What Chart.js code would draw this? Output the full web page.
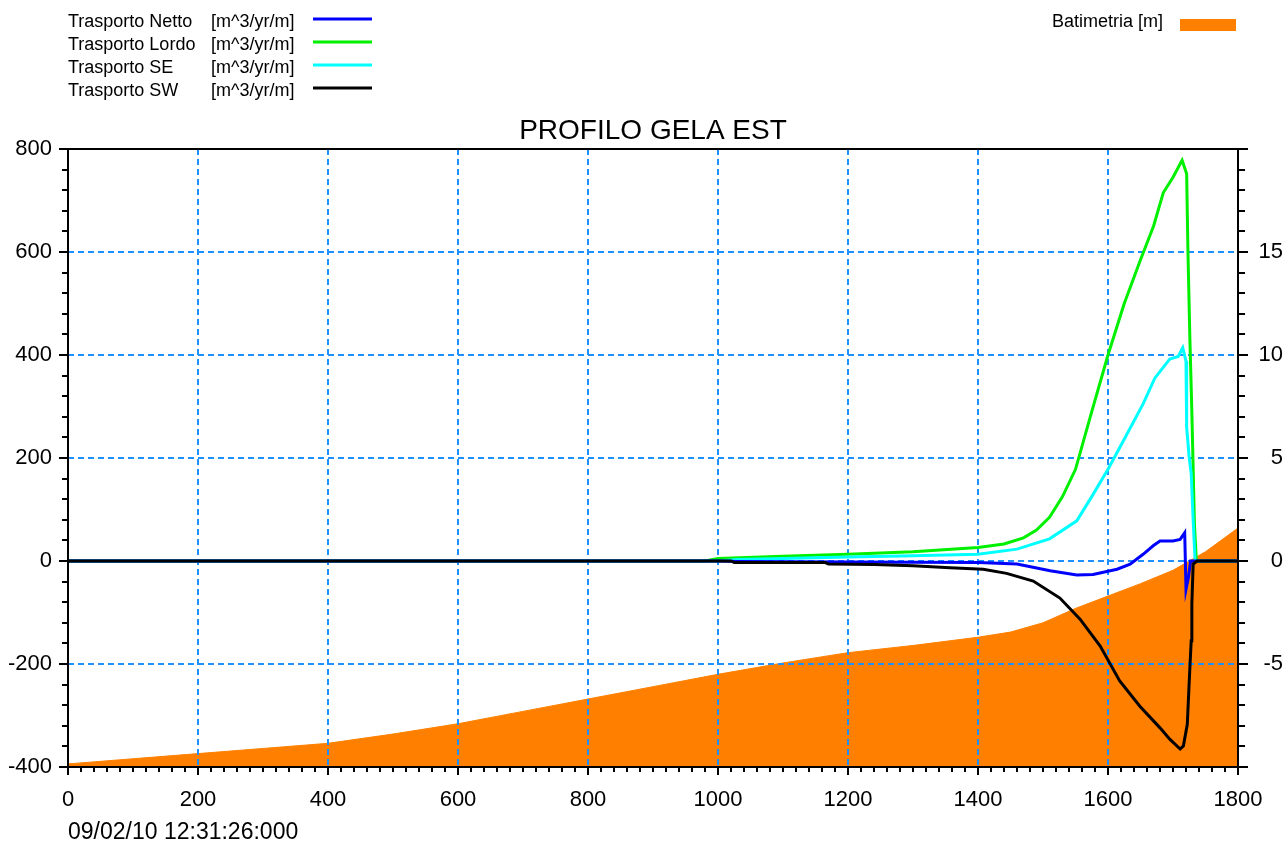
<!DOCTYPE html>
<html>
<head>
<meta charset="utf-8">
<title>PROFILO GELA EST</title>
<script src="https://cdn.jsdelivr.net/npm/chart.js@4.4.1/dist/chart.umd.min.js"></script>
<style>
  html, body { margin: 0; padding: 0; background: #ffffff; }
  canvas { display: block; }
</style>
</head>
<body>
<canvas id="profilo" width="1288" height="843"></canvas>
<script>
// ---- Profile data (distance along profile in m) ----
const titleText = 'PROFILO GELA EST';
const stampText = '09/02/10 12:31:26:000';
const unitText = '[m^3/yr/m]';
const seriesNames = ['Trasporto Netto', 'Trasporto Lordo', 'Trasporto SE', 'Trasporto SW'];
const bathyName = 'Batimetria [m]';

const xTickLabels = [0, 200, 400, 600, 800, 1000, 1200, 1400, 1600, 1800];
const yTickLabels = [-400, -200, 0, 200, 400, 600, 800];
const y2TickLabels = [-5, 0, 5, 10, 15];

// Net transport
const nettoX = [0, 1000, 1030, 1200, 1400, 1460, 1511, 1552, 1577, 1614, 1634, 1654, 1670, 1680, 1700, 1711, 1718, 1720, 1724, 1727, 1800];
const nettoY = [0, 0, -1, -2, -3, -6, -19, -27, -26, -16, -6, 13, 30, 39, 39, 42, 55, -55, -30, 0, 0];

// Gross transport
const lordoX = [0, 980, 1000, 1100, 1200, 1300, 1400, 1440, 1470, 1490, 1510, 1530, 1550, 1575, 1600, 1625, 1650, 1670, 1685, 1700, 1714, 1721, 1723, 1726, 1729, 1733, 1736, 1800];
const lordoY = [0, 0, 5, 9, 13, 18, 26, 33, 45, 60, 85, 125, 178, 290, 400, 500, 585, 650, 715, 745, 778, 752, 600, 430, 290, 70, 0, 0];

// SE transport
const seX = [0, 1000, 1030, 1100, 1200, 1300, 1400, 1460, 1510, 1552, 1575, 1600, 1626, 1654, 1672, 1695, 1708, 1715, 1720, 1721, 1725, 1728, 1731, 1734, 1800];
const seY = [0, 0, 3, 5, 8, 10, 13, 23, 43, 78, 125, 178, 239, 305, 355, 392, 397, 414, 388, 260, 200, 170, 80, 0, 0];

// SW transport
const swX = [0, 1020, 1025, 1165, 1170, 1240, 1300, 1357, 1408, 1444, 1485, 1526, 1557, 1588, 1618, 1649, 1680, 1695, 1711, 1716, 1722, 1725, 1728, 1729, 1731, 1737, 1800];
const swY = [0, 0, -3, -3, -6, -7, -9, -13, -16, -24, -39, -72, -113, -165, -233, -282, -324, -346, -365, -359, -317, -233, -155, -84, -6, 0, 0];

// Bathymetry (right axis, m)
const bathyX = [0, 100, 200, 300, 400, 500, 600, 700, 800, 900, 1000, 1100, 1200, 1300, 1400, 1450, 1500, 1550, 1600, 1650, 1700, 1750, 1800];
const bathyY = [-9.85, -9.6, -9.35, -9.1, -8.85, -8.4, -7.9, -7.3, -6.7, -6.1, -5.5, -4.95, -4.45, -4.1, -3.7, -3.45, -3.0, -2.3, -1.7, -1.1, -0.45, 0.45, 1.6];

const FONT = '"Liberation Sans", Arial, sans-serif';
const seriesColors = ['#0000ff', '#00f000', '#00ffff', '#000000'];
const bathyColor = '#ff8000';
const gridColor = '#1e90ff';

const pts = (xs, ys) => xs.map((x, i) => ({ x: x, y: ys[i] }));

const BATHY_INDEX = 4;

// Dashed grid (drawn over the bathymetry fill, under the transport lines),
// frame, tick marks, legend, title and time stamp.
const decor = {
  id: 'profileDecor',
  afterDatasetDraw(chart, args) {
    if (args.index !== BATHY_INDEX) return;
    const { ctx, chartArea: a, scales } = chart;
    ctx.save();
    ctx.strokeStyle = gridColor;
    ctx.lineWidth = 2;
    ctx.setLineDash([6, 4]);
    xTickLabels.forEach(v => {
      if (v <= scales.x.min || v >= scales.x.max) return;
      const px = Math.round(scales.x.getPixelForValue(v));
      ctx.beginPath(); ctx.moveTo(px, a.top); ctx.lineTo(px, a.bottom); ctx.stroke();
    });
    yTickLabels.forEach(v => {
      if (v <= scales.y.min || v >= scales.y.max) return;
      const py = Math.round(scales.y.getPixelForValue(v));
      ctx.beginPath(); ctx.moveTo(a.left, py); ctx.lineTo(a.right, py); ctx.stroke();
    });
    ctx.restore();
  },
  afterDraw(chart) {
    const { ctx, chartArea: a, scales } = chart;
    ctx.save();
    // frame
    ctx.strokeStyle = '#000';
    ctx.lineWidth = 2;
    ctx.strokeRect(a.left, a.top, a.right - a.left, a.bottom - a.top);

    // tick marks
    ctx.lineWidth = 2;
    ctx.beginPath();
    scales.x.ticks.forEach(t => {
      const px = Math.round(scales.x.getPixelForValue(t.value));
      const len = t.value % 200 === 0 ? 8 : 5;
      ctx.moveTo(px, a.bottom); ctx.lineTo(px, a.bottom + len);
    });
    scales.y.ticks.forEach(t => {
      const py = Math.round(scales.y.getPixelForValue(t.value));
      const len = t.value % 200 === 0 ? 9 : 6;
      ctx.moveTo(a.left, py); ctx.lineTo(a.left - len, py);
    });
    scales.y2.ticks.forEach(t => {
      const py = Math.round(scales.y2.getPixelForValue(t.value));
      const len = t.value % 5 === 0 ? 10 : 7;
      ctx.moveTo(a.right, py); ctx.lineTo(a.right + len, py);
    });
    ctx.stroke();

    // title
    ctx.fillStyle = '#000';
    ctx.font = '28px ' + FONT;
    ctx.textAlign = 'center';
    ctx.textBaseline = 'alphabetic';
    ctx.fillText(titleText, (a.left + a.right) / 2, 139);

    // legend: transport series
    ctx.font = '18px ' + FONT;
    ctx.textAlign = 'left';
    const ds = chart.data.datasets;
    for (let i = 0; i < 4; i++) {
      const yLine = 19 + i * 23;
      ctx.fillStyle = '#000';
      ctx.fillText(seriesNames[i], 68, yLine + 7.5);
      ctx.fillText(unitText, 211, yLine + 7.5);
      ctx.strokeStyle = ds[i].borderColor;
      ctx.lineWidth = 3;
      ctx.beginPath(); ctx.moveTo(313, yLine); ctx.lineTo(372, yLine); ctx.stroke();
    }
    // legend: bathymetry
    ctx.fillStyle = '#000';
    ctx.fillText(bathyName, 1052, 27);
    ctx.fillStyle = ds[BATHY_INDEX].backgroundColor;
    ctx.fillRect(1180, 19, 56, 12);

    // time stamp
    ctx.fillStyle = '#000';
    ctx.font = '23px ' + FONT;
    ctx.fillText(stampText, 68, 839);
    ctx.restore();
  }
};

new Chart(document.getElementById('profilo'), {
  type: 'line',
  data: {
    datasets: [
      { label: seriesNames[0] + ' ' + unitText, data: pts(nettoX, nettoY), borderColor: seriesColors[0], borderWidth: 3, yAxisID: 'y', order: 2, fill: false },
      { label: seriesNames[1] + ' ' + unitText, data: pts(lordoX, lordoY), borderColor: seriesColors[1], borderWidth: 3, yAxisID: 'y', order: 4, fill: false },
      { label: seriesNames[2] + ' ' + unitText, data: pts(seX, seY), borderColor: seriesColors[2], borderWidth: 3, yAxisID: 'y', order: 3, fill: false },
      { label: seriesNames[3] + ' ' + unitText, data: pts(swX, swY), borderColor: seriesColors[3], borderWidth: 3, yAxisID: 'y', order: 1, fill: false },
      { label: bathyName, data: pts(bathyX, bathyY), borderColor: bathyColor, backgroundColor: bathyColor, borderWidth: 1, yAxisID: 'y2', order: 10, fill: 'start' }
    ]
  },
  options: {
    responsive: false,
    animation: false,
    devicePixelRatio: 1,
    parsing: true,
    layout: { padding: { top: 149, left: 0, right: 5, bottom: 0 } },
    elements: { point: { radius: 0 }, line: { tension: 0 } },
    plugins: { legend: { display: false }, tooltip: { enabled: false }, title: { display: false } },
    scales: {
      x: {
        type: 'linear', position: 'bottom', min: 0, max: 1800,
        grid: { display: false }, border: { display: false },
        ticks: {
          stepSize: 20, maxTicksLimit: 500, autoSkip: false, maxRotation: 0, minRotation: 0,
          padding: 12, color: '#000', font: { family: FONT, size: 22 },
          callback: v => (xTickLabels.includes(v) ? String(v) : '')
        },
        afterFit(s) { s.height = 76; }
      },
      y: {
        type: 'linear', position: 'left', min: -400, max: 800,
        grid: { display: false }, border: { display: false },
        ticks: {
          stepSize: 40, maxTicksLimit: 500, autoSkip: false,
          padding: 8, color: '#000', font: { family: FONT, size: 22 },
          callback: v => (yTickLabels.includes(v) ? String(v) : '')
        },
        afterFit(s) { s.width = 68; }
      },
      y2: {
        type: 'linear', position: 'right', min: -10, max: 20,
        grid: { display: false }, border: { display: false },
        ticks: {
          stepSize: 1, maxTicksLimit: 500, autoSkip: false, crossAlign: 'far',
          padding: 13, color: '#000', font: { family: FONT, size: 22 },
          callback: v => (y2TickLabels.includes(v) ? String(v) : '')
        },
        afterFit(s) { s.width = 45; }
      }
    }
  },
  plugins: [decor]
});
</script>
</body>
</html>
